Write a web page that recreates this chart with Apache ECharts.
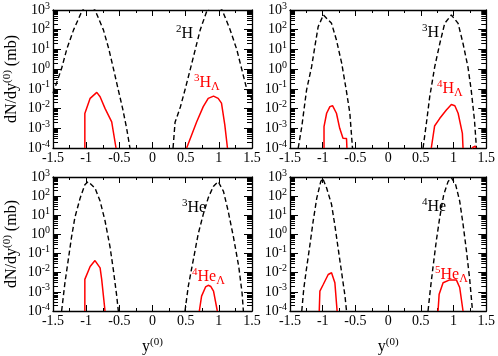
<!DOCTYPE html>
<html><head><meta charset="utf-8">
<script src="https://cdn.jsdelivr.net/npm/echarts@6/dist/echarts.min.js"></script>
<style>html,body{margin:0;padding:0;background:#fff}#c{width:498px;height:356px}</style>
</head><body><div id="c"></div>
<script>
// ---- tick values / labels ----
const xTickValues = [-1.5, -1, -0.5, 0, 0.5, 1, 1.5];
const yExponents = [-4, -3, -2, -1, 0, 1, 2, 3];
const yMinorMultipliers = [2, 3, 4, 5, 6, 7, 8, 9];

// ---- panel (a): 2H and 3H_Lambda ----
const d2H_left = [[-1.5,0.06],[-1.37,1.1],[-1.29,11],[-1.19,98],[-1.07,800],[-0.97,2500],[-0.867,1000],[-0.74,98],[-0.66,11],[-0.59,1.1],[-0.515,0.087],[-0.45,0.01],[-0.39,0.001],[-0.34,1e-4]];
const d2H_right = [[0.31,1e-4],[0.34,2e-3],[0.42,0.012],[0.49,0.09],[0.57,1.0],[0.645,10],[0.72,100],[0.82,900],[0.93,2500],[1.05,1000],[1.17,100],[1.27,10],[1.345,1],[1.42,0.1],[1.5,0.03]];
const r3HL_left = [[-1.02,1e-4],[-1.02,0.0057],[-0.94,0.033],[-0.84,0.066],[-0.79,0.04],[-0.716,0.0102],[-0.615,0.0021],[-0.55,1e-4]];
const r3HL_right = [[0.515,1e-4],[0.665,0.0021],[0.765,0.0125],[0.84,0.033],[0.92,0.043],[0.99,0.033],[1.04,0.019],[1.09,0.0015],[1.13,1e-4]];

// ---- panel (b): 3H and 4H_Lambda ----
const d3H_left = [[-1.374,1e-4],[-1.32,0.0012],[-1.247,0.087],[-1.17,1.3],[-1.12,14],[-1.07,140],[-0.99,560],[-0.865,210],[-0.79,30],[-0.71,2],[-0.64,0.087],[-0.585,0.0058],[-0.545,1e-4]];
const d3H_right = [[0.534,1e-4],[0.585,0.0018],[0.636,0.04],[0.712,1.3],[0.79,20],[0.865,210],[0.967,560],[1.07,210],[1.145,20],[1.22,1.3],[1.27,0.087],[1.32,0.0026],[1.35,1e-4]];
const r4HL_left = [[-0.98,1e-4],[-0.98,0.0012],[-0.94,0.0058],[-0.89,0.0125],[-0.85,0.014],[-0.79,0.0058],[-0.74,0.001],[-0.69,3.1e-4],[-0.636,3e-4],[-0.63,1e-4]];
const r4HL_right = [[0.66,1e-4],[0.71,0.0013],[0.79,0.0032],[0.89,0.0085],[0.967,0.016],[1.02,0.014],[1.07,0.0058],[1.135,5.5e-4],[1.145,1e-4]];
const r4HL_tail = [[1.28,1e-4],[1.3,1.25e-4],[1.33,1.25e-4],[1.34,1e-4]];

// ---- panel (c): 3He and 4He_Lambda ----
const d3He_left = [[-1.37,1e-4],[-1.32,0.003],[-1.27,0.047],[-1.22,0.74],[-1.17,7.7],[-1.09,81],[-1.02,390],[-0.97,575],[-0.867,265],[-0.79,55],[-0.716,5.2],[-0.64,0.22],[-0.59,0.014],[-0.54,6.3e-4],[-0.515,1e-4]];
const d3He_right = [[0.49,1e-4],[0.54,0.002],[0.615,0.047],[0.69,1.1],[0.766,11.5],[0.84,81],[0.917,320],[0.99,575],[1.07,178],[1.14,17],[1.22,0.74],[1.3,0.021],[1.35,9e-4],[1.37,1e-4]];
const r4HeL_left = [[-1.02,1e-4],[-1.02,0.0045],[-0.94,0.021],[-0.867,0.043],[-0.79,0.018],[-0.766,0.0045],[-0.716,1e-4]];
const r4HeL_right = [[0.706,1e-4],[0.74,6e-4],[0.8,0.0018],[0.84,0.0022],[0.88,0.0019],[0.92,0.0011],[0.977,1e-4]];

// ---- panel (d): 4He and 5He_Lambda ----
const d4He_left = [[-1.32,1e-4],[-1.29,0.0014],[-1.25,0.0145],[-1.2,0.22],[-1.145,5.2],[-1.09,81],[-1.03,575],[-1.0,850],[-0.94,265],[-0.865,37],[-0.81,2.4],[-0.76,0.15],[-0.71,0.0098],[-0.66,6.3e-4],[-0.636,1e-4]];
const d4He_right = [[0.61,1e-4],[0.646,0.0014],[0.687,0.021],[0.738,0.5],[0.789,7.7],[0.85,120],[0.916,575],[0.967,920],[1.033,390],[1.094,55],[1.145,3.5],[1.196,0.15],[1.247,0.0045],[1.29,1e-4]];
const r5HeL_left = [[-1.053,1e-4],[-1.043,0.0011],[-0.99,0.0025],[-0.916,0.0081],[-0.865,0.01],[-0.814,0.003],[-0.78,1e-4]];
const r5HeL_right = [[0.763,1e-4],[0.78,7.6e-4],[0.84,0.003],[0.942,0.0042],[1.043,0.0042],[1.094,0.0017],[1.145,1e-4]];

// ---- in-plot labels ----
const blackLabels = ['{sup|2}H', '{sup|3}H', '{sup|3}He', '{sup|4}He'];
const redLabels = ['{sup|3}H{sub|\u039B}', '{sup|4}H{sub|\u039B}', '{sup|4}He{sub|\u039B}', '{sup|5}He{sub|\u039B}'];
const yAxisName = 'dN/dy{sup|(0)} (mb)';
const xAxisName = 'y{sup|(0)}';

const FONT = 'Liberation Serif, Times New Roman, serif';
const yMajorValues = yExponents.map(e => Math.pow(10, e));
const yMinorValues = [];
yExponents.slice(0, -1).forEach(e => yMinorMultipliers.forEach(m => yMinorValues.push(+(m * Math.pow(10, e)).toPrecision(3))));

const grids = [
  {left: 53, top: 10, width: 199, height: 138},
  {left: 290, top: 10, width: 198, height: 138},
  {left: 53, top: 177, width: 199, height: 137},
  {left: 290, top: 177, width: 198, height: 137}
];
const panels = [
  {black: [d2H_left, d2H_right], red: [r3HL_left, r3HL_right]},
  {black: [d3H_left, d3H_right], red: [r4HL_left, r4HL_right, r4HL_tail]},
  {black: [d3He_left, d3He_right], red: [r4HeL_left, r4HeL_right]},
  {black: [d4He_left, d4He_right], red: [r5HeL_left, r5HeL_right]}
];
const blackLabelPos = [[176, 24], [422, 23], [182, 198], [422, 197]];
const redLabelPos = [[194, 72], [437, 78], [192, 266], [435, 264]];

function labelRich(col) {
  return {
    sup: {fontFamily: FONT, fontSize: 11, padding: [0, 0, 9, 0], fill: col},
    sub: {fontFamily: FONT, fontSize: 12, padding: [9, 0, 0, 0], fill: col}
  };
}
const tickRich = {
  sup: {fontFamily: FONT, fontSize: 10, lineHeight: 10, padding: [0, 0, 8, 0], color: '#000'}
};

const xAxes = [], yAxes = [], series = [];
grids.forEach((g, i) => {
  const isBottom = i >= 2, isLeft = (i % 2 === 0);
  const xBase = {
    gridIndex: i, type: 'value', min: xTickValues[0], max: xTickValues[xTickValues.length - 1], interval: 0.5,
    axisLine: {show: true, onZero: false, lineStyle: {color: '#000', width: 1.3}},
    axisTick: {show: true, inside: true, length: 6, lineStyle: {color: '#000', width: 1}},
    minorTick: {show: true, splitNumber: 2, length: 3, lineStyle: {color: '#000', width: 1}},
    splitLine: {show: false}, minorSplitLine: {show: false}
  };
  xAxes.push(Object.assign({}, xBase, {
    position: 'bottom',
    axisLabel: {show: true, color: '#000', fontFamily: FONT, fontSize: 14, margin: 3,
      formatter: v => String(+v.toFixed(2))},
    name: isBottom ? xAxisName : '', nameLocation: 'middle', nameGap: 26,
    nameTextStyle: {fontFamily: FONT, fontSize: 16, color: '#000', rich: {sup: {fontFamily: FONT, fontSize: 11, padding: [0, 0, 9, 0], color: '#000'}}}
  }));
  xAxes.push(Object.assign({}, xBase, {position: 'top', axisLabel: {show: false}}));

  const yBase = {
    gridIndex: i, type: 'log', logBase: 10, min: yMajorValues[0], max: yMajorValues[yMajorValues.length - 1],
    splitLine: {show: false}, minorSplitLine: {show: false}
  };
  yAxes.push(Object.assign({}, yBase, {
    position: 'left',
    axisLine: {show: true, onZero: false, lineStyle: {color: '#000', width: 1.3}},
    axisTick: {show: true, inside: true, length: 8, lineStyle: {color: '#000', width: 1}},
    axisLabel: {show: true, color: '#000', fontFamily: FONT, fontSize: 14, margin: 3, rich: tickRich,
      formatter: v => '10{sup|' + Math.round(Math.log10(v)) + '}'},
    name: isLeft ? yAxisName : '', nameLocation: 'middle', nameRotate: 90, nameGap: 31,
    nameTextStyle: {fontFamily: FONT, fontSize: 16, color: '#000', rich: {sup: {fontFamily: FONT, fontSize: 11, padding: [0, 0, 9, 0], color: '#000'}}}
  }));
  yAxes.push(Object.assign({}, yBase, {
    position: 'left', axisLine: {show: false, onZero: false}, axisLabel: {show: false},
    axisTick: {show: true, inside: true, length: 5, customValues: yMinorValues, lineStyle: {color: '#000', width: 1}}
  }));
  yAxes.push(Object.assign({}, yBase, {
    position: 'right',
    axisLine: {show: true, onZero: false, lineStyle: {color: '#000', width: 1.3}},
    axisTick: {show: true, inside: true, length: 8, lineStyle: {color: '#000', width: 1}},
    axisLabel: {show: false}
  }));
  yAxes.push(Object.assign({}, yBase, {
    position: 'right', axisLine: {show: false, onZero: false}, axisLabel: {show: false},
    axisTick: {show: true, inside: true, length: 5, customValues: yMinorValues, lineStyle: {color: '#000', width: 1}}
  }));

  panels[i].black.forEach(d => series.push({
    type: 'line', xAxisIndex: 2 * i, yAxisIndex: 4 * i, data: d, symbol: 'none', clip: true,
    lineStyle: {color: '#000', width: 1.4, type: [5, 3]}
  }));
  panels[i].red.forEach(d => series.push({
    type: 'line', xAxisIndex: 2 * i, yAxisIndex: 4 * i, data: d, symbol: 'none', clip: true,
    lineStyle: {color: '#ff0000', width: 1.5}
  }));
});

const graphics = [];
blackLabels.forEach((t, i) => graphics.push({type: 'text', x: blackLabelPos[i][0], y: blackLabelPos[i][1],
  style: {text: t, fill: '#000', fontFamily: FONT, fontSize: 16, rich: labelRich('#000')}}));
redLabels.forEach((t, i) => graphics.push({type: 'text', x: redLabelPos[i][0], y: redLabelPos[i][1],
  style: {text: t, fill: '#ff0000', fontFamily: FONT, fontSize: 16, rich: labelRich('#ff0000')}}));

const chart = echarts.init(document.getElementById('c'), null, {renderer: 'canvas'});
chart.setOption({
  animation: false, backgroundColor: '#fff',
  grid: grids, xAxis: xAxes, yAxis: yAxes, series: series, graphic: graphics
});
</script></body></html>
